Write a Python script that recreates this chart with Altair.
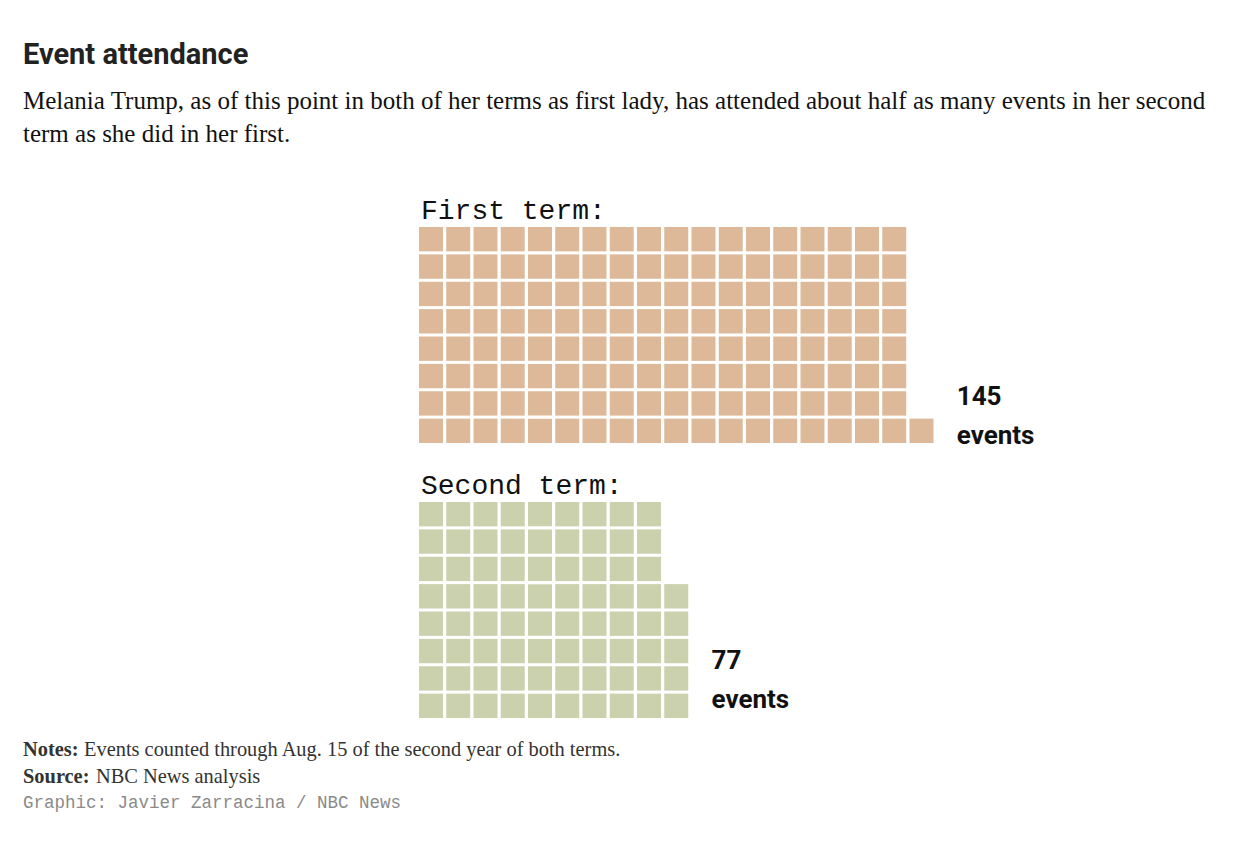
import altair as alt
import pandas as pd

# ---- data ----
terms = ["First term:", "Second term:"]
counts = [145, 77]
colors = ["#DDB999", "#CBD0AD"]
rows_per_column = 8

title_text = "Event attendance"
subtitle_lines = [
    "Melania Trump, as of this point in both of her terms as first lady, has attended about half as many events in her second",
    "term as she did in her first.",
]
notes = ["Notes:", "Events counted through Aug. 15 of the second year of both terms."]
source = ["Source:", "NBC News analysis"]
credit = "Graphic: Javier Zarracina / NBC News"

# ---- layout constants ----
PANEL_W = 1100
PANEL_H = 219
X_DOMAIN = [-396 / 27.25, (PANEL_W - 396) / 27.25]
label_y = [178, 167]

xscale = alt.Scale(domain=X_DOMAIN, nice=False, zero=False)
yscale = alt.Scale(domain=[0, rows_per_column], nice=False, zero=False)


def panel(i, with_footer=False):
    n = counts[i]
    df = pd.DataFrame({"idx": list(range(n))})
    df["col"] = df["idx"] // rows_per_column
    df["row"] = df["idx"] % rows_per_column

    rects = (
        alt.Chart(df)
        .transform_calculate(cx2="datum.col + 0.88", ry="datum.row + 0.11", ry2="datum.row + 1")
        .mark_rect(color=colors[i])
        .encode(
            x=alt.X("col:Q", scale=xscale, axis=None),
            x2="cx2:Q",
            y=alt.Y("ry:Q", scale=yscale, axis=None),
            y2="ry2:Q",
        )
    )

    lab_df = pd.DataFrame({"col": [int(df["col"].max()) + 1], "label": [f"{n}\nevents"]})
    label = (
        alt.Chart(lab_df)
        .mark_text(
            align="left", baseline="alphabetic", dx=20, lineBreak="\n",
            font="Roboto", fontWeight="bold", fontSize=26, lineHeight=39, color="#111111",
        )
        .encode(x=alt.X("col:Q", scale=xscale, axis=None), y=alt.value(label_y[i]), text="label:N")
    )

    layers = [rects, label]

    if with_footer:
        one = pd.DataFrame({"k": [0]})
        serif = dict(font="Liberation Serif", fontSize=20.4, align="left", baseline="alphabetic", color="#333333")
        layers += [
            alt.Chart(one).mark_text(fontWeight="bold", **serif).encode(x=alt.value(0), y=alt.value(254), text=alt.value(notes[0])),
            alt.Chart(one).mark_text(**serif).encode(x=alt.value(61), y=alt.value(254), text=alt.value(notes[1])),
            alt.Chart(one).mark_text(fontWeight="bold", **serif).encode(x=alt.value(0), y=alt.value(281), text=alt.value(source[0])),
            alt.Chart(one).mark_text(**serif).encode(x=alt.value(73), y=alt.value(281), text=alt.value(source[1])),
            alt.Chart(one).mark_text(font="Liberation Mono", fontSize=17.5, align="left", baseline="alphabetic", color="#8a8a8a")
            .encode(x=alt.value(0), y=alt.value(306), text=alt.value(credit)),
        ]

    return alt.layer(*layers).properties(
        width=PANEL_W,
        height=PANEL_H,
        title=alt.TitleParams(
            terms[i], anchor="start", dx=398, font="Liberation Mono", fontSize=28,
            fontWeight="normal", color="#111111", offset=2,
        ),
    )


chart = (
    alt.vconcat(panel(0), panel(1, with_footer=True), spacing=23)
    .properties(
        title=alt.TitleParams(
            title_text,
            subtitle=subtitle_lines,
            anchor="start",
            font="Roboto",
            fontSize=29,
            fontWeight="bold",
            color="#222222",
            subtitleFont="Liberation Serif",
            subtitleFontSize=25,
            subtitleColor="#111111",
            subtitleLineHeight=33,
            subtitlePadding=19,
            offset=50,
        ),
        padding={"left": 15, "top": 33, "right": 0, "bottom": 12},
    )
    .configure_view(stroke=None)
)

chart.save("out.html", embed_options={"renderer": "svg", "actions": False})
